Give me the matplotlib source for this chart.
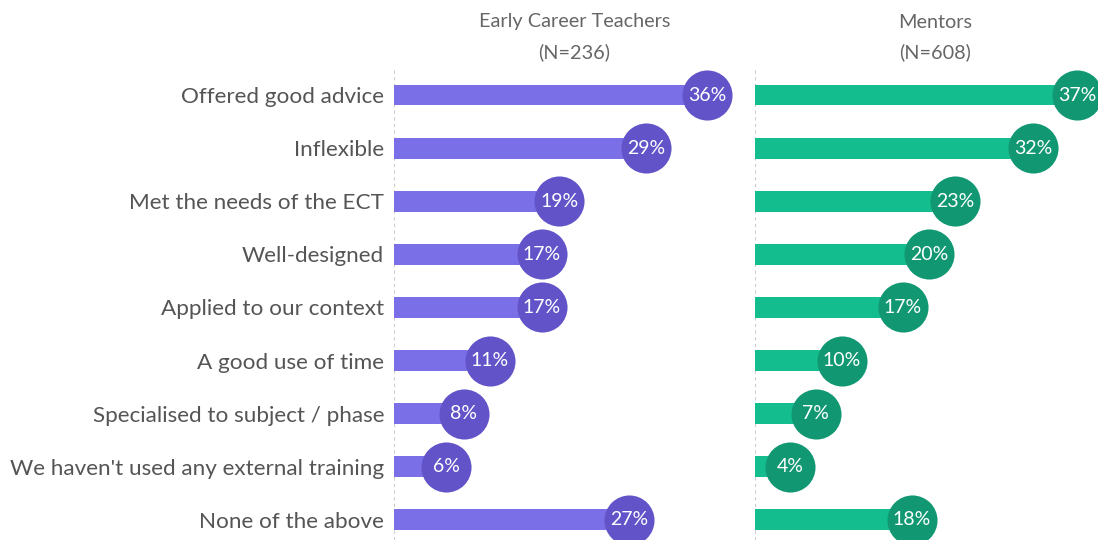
import matplotlib
matplotlib.use("Agg")
import matplotlib.pyplot as plt

plt.rcParams['font.family'] = ['Lato', 'DejaVu Sans']

categories = [
    "Offered good advice",
    "Inflexible",
    "Met the needs of the ECT",
    "Well-designed",
    "Applied to our context",
    "A good use of time",
    "Specialised to subject / phase",
    "We haven't used any external training",
    "None of the above",
]
ect_values = [36, 29, 19, 17, 17, 11, 8, 6, 27]
mentor_values = [37, 32, 23, 20, 17, 10, 7, 4, 18]
panel_titles = [("Early Career Teachers", "(N=236)"), ("Mentors", "(N=608)")]

W, H = 1098, 540
fig = plt.figure(figsize=(W / 100, H / 100), dpi=100)

panels = [
    (394, ect_values, "#7B6FE8", "#6254C8", panel_titles[0]),
    (755, mentor_values, "#13BD8E", "#119873", panel_titles[1]),
]

ypos = list(range(len(categories)))
for i, (x0, vals, bar_c, dot_c, title) in enumerate(panels):
    ax = fig.add_axes([x0 / W, 0, 361 / W, 472 / H])
    ax.barh(ypos, vals, height=0.39, color=bar_c, zorder=2)
    ax.scatter(vals, ypos, s=1300, color=dot_c, zorder=3, clip_on=False,
               linewidths=0)
    for y, v in zip(ypos, vals):
        ax.text(v, y, f"{v}%", color="white", ha="center", va="center",
                fontsize=14, zorder=4)
    ax.axvline(0, color="#cccccc", lw=0.8, ls=(0, (3, 3)), zorder=1)
    ax.set_xlim(0, 41.5)
    ax.set_ylim(8.38, -0.51)
    ax.set_xticks([])
    for s in ax.spines.values():
        s.set_visible(False)
    if i == 0:
        ax.set_yticks(ypos)
        ax.set_yticklabels(categories, fontsize=16.2, color="#555555")
        ax.tick_params(axis="y", length=0, pad=7)
    else:
        ax.set_yticks([])
    # two title lines, centred over the panel
    ax.text(0.5, 1 + 46 / 472, title[0], transform=ax.transAxes, ha="center",
            va="center", fontsize=14.3, color="#666666")
    ax.text(0.5, 1 + 16 / 472, title[1], transform=ax.transAxes, ha="center",
            va="center", fontsize=14.3, color="#666666")

fig.savefig("out.png", dpi=100)
